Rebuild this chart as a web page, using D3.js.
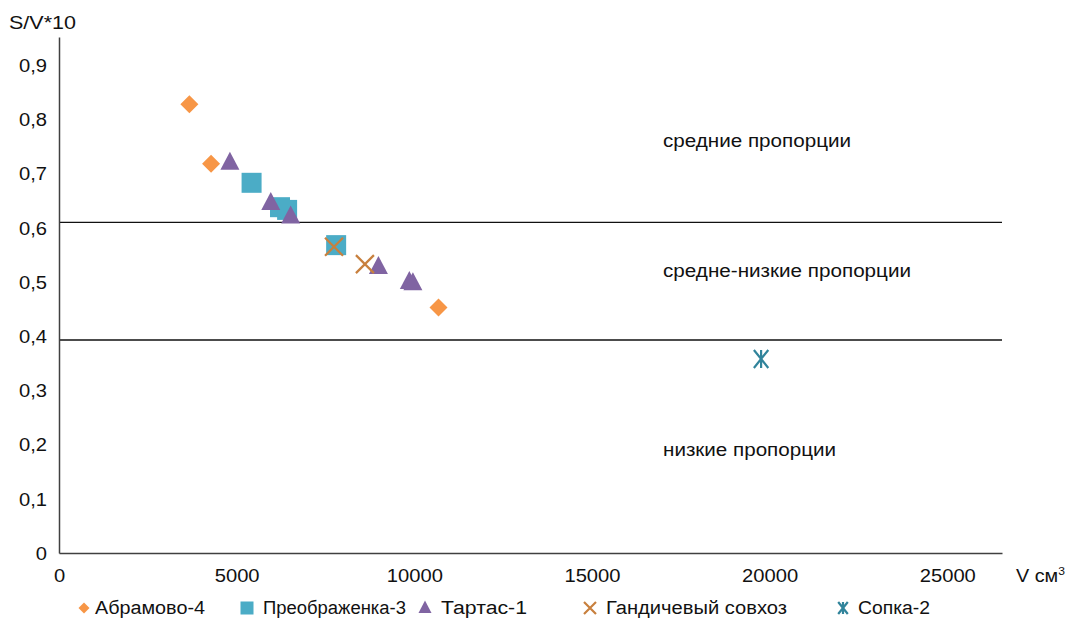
<!DOCTYPE html>
<html><head><meta charset="utf-8">
<script src="https://cdn.jsdelivr.net/npm/d3@7"></script>
<style>body{margin:0;background:#fff}svg{display:block;font-family:"Liberation Sans",Arial,sans-serif}</style>
</head><body><svg id="c" width="1071" height="620"></svg>
<script>
const seriesNames = ["Абрамово-4","Преображенка-3","Тартас-1","Гандичевый совхоз","Сопка-2"];
const abramovo = [[3670,0.828],[4280,0.718],[10680,0.453]];
const preobrazhenka = [[5420,0.683],[6220,0.638],[6420,0.633],[7800,0.568]];
const tartas = [[4810,0.72],[5960,0.646],[6520,0.621],[8990,0.528],[9860,0.5],[9960,0.498]];
const gandich = [[7740,0.565],[8610,0.533]];
const sopka = [[19760,0.358]];
const xTicks = [0,5000,10000,15000,20000,25000];
const yTicks = [0,0.1,0.2,0.3,0.4,0.5,0.6,0.7,0.8,0.9];
const zoneLines = [0.61,0.393];
const zoneLabels = [["средние пропорции",0.76],["средне-низкие пропорции",0.52],["низкие пропорции",0.19]];
const colors = ["#F79646","#4BACC6","#8064A2","#C8803E","#31849B"];
const shapes = ["diamond","square","triangle","x","star"];
const data = [abramovo,preobrazhenka,tartas,gandich,sopka];
const K = 1.12;
const FS = 18;

const svg = d3.select("#c");
const x = d3.scaleLinear().domain([0,26540]).range([59,1002]);
const y = d3.scaleLinear().domain([0,0.952]).range([553,37]);

svg.selectAll(".zl").data(zoneLines).join("line")
  .attr("x1",x(0)).attr("x2",x(26540)).attr("y1",d=>y(d)).attr("y2",d=>y(d))
  .attr("stroke","#111").attr("stroke-width",1.3);

const xAxis = svg.append("g").attr("transform",`translate(0,${y(0)})`)
  .call(d3.axisBottom(x).tickValues(xTicks).tickSize(0).tickPadding(16).tickFormat(d3.format("d")));
const yAxis = svg.append("g").attr("transform",`translate(${x(0)},0)`)
  .call(d3.axisLeft(y).tickValues(yTicks).tickSize(0).tickPadding(12).tickFormat(d=>d3.format(".1~f")(d).replace(".",",")));
[xAxis,yAxis].forEach(a=>{
  a.select(".domain").attr("stroke","#404040").attr("stroke-width",1.5);
  a.selectAll("text").attr("font-size",FS).attr("fill","#111").attr("font-family","Liberation Sans, Arial, sans-serif").classed("st",true);
});
yAxis.selectAll("text").attr("dy","0.35em");
xAxis.selectAll("text").attr("dy","0.71em");

svg.append("text").attr("x",9).attr("y",29).attr("font-size",FS).attr("fill","#111").attr("data-w",67).text("S/V*10");
const vt = svg.append("text").attr("x",1016).attr("y",582).attr("font-size",FS).attr("fill","#111")
  .attr("transform","translate(1016,0) scale(1.1,1) translate(-1016,0)");
vt.append("tspan").text("V см");
vt.append("tspan").attr("font-size",11).attr("dy",-7).text("3");

const zoneW = [188,248,173];
svg.selectAll(".zt").data(zoneLabels).join("text")
  .attr("x",663).attr("y",d=>y(d[1])).attr("dy","0.35em").attr("font-size",FS).attr("fill","#111")
  .attr("data-w",(d,i)=>zoneW[i]).text(d=>d[0]);

function drawMarker(g, shape, color, s){
  if(shape==="diamond"){
    g.append("path").attr("d",`M0,${-s}L${s},0L0,${s}L${-s},0Z`).attr("fill",color);
  } else if(shape==="square"){
    g.append("rect").attr("x",-s).attr("y",-s).attr("width",2*s).attr("height",2*s).attr("fill",color);
  } else if(shape==="triangle"){
    g.append("path").attr("d",`M0,${-s*1.15}L${s},${s*0.75}L${-s},${s*0.75}Z`).attr("fill",color);
  } else if(shape==="x"){
    g.append("path").attr("d",`M${-s},${-s}L${s},${s}M${-s},${s}L${s},${-s}`).attr("stroke",color).attr("stroke-width",2.2).attr("fill","none");
  } else {
    g.append("path").attr("d",`M${-s*0.8},${-s}L${s*0.8},${s}M${-s*0.8},${s}L${s*0.8},${-s}M0,${-s}L0,${s}`).attr("stroke",color).attr("stroke-width",2.2).attr("fill","none");
  }
}
const sizes = [9,10,9.5,9,9];
data.forEach((ser,i)=>{
  svg.append("g").selectAll("g").data(ser).join("g")
    .attr("transform",d=>`translate(${x(d[0])},${y(d[1])})`)
    .each(function(){drawMarker(d3.select(this),shapes[i],colors[i],sizes[i]);});
});

const legX = [84,247,425,590,843];
const legTX = [11,16,16,16,15];
const legW = [110,143,86,181,72];
const legSizes = [5.5,6.5,6.5,6,6];
const lg = svg.append("g");
seriesNames.forEach((n,i)=>{
  const g = lg.append("g").attr("transform",`translate(${legX[i]},608)`);
  drawMarker(g,shapes[i],colors[i],legSizes[i]);
  g.append("text").attr("x",legTX[i]).attr("y",0).attr("dy","0.35em").attr("font-size",FS).attr("fill","#111")
    .attr("data-w",legW[i]).text(n);
});

svg.selectAll("text.st").each(function(){
  const w = this.getComputedTextLength();
  d3.select(this).attr("textLength",w*K).attr("lengthAdjust","spacingAndGlyphs");
});
svg.selectAll("text[data-w]").each(function(){
  d3.select(this).attr("textLength",this.getAttribute("data-w")).attr("lengthAdjust","spacingAndGlyphs");
});
</script></body></html>
